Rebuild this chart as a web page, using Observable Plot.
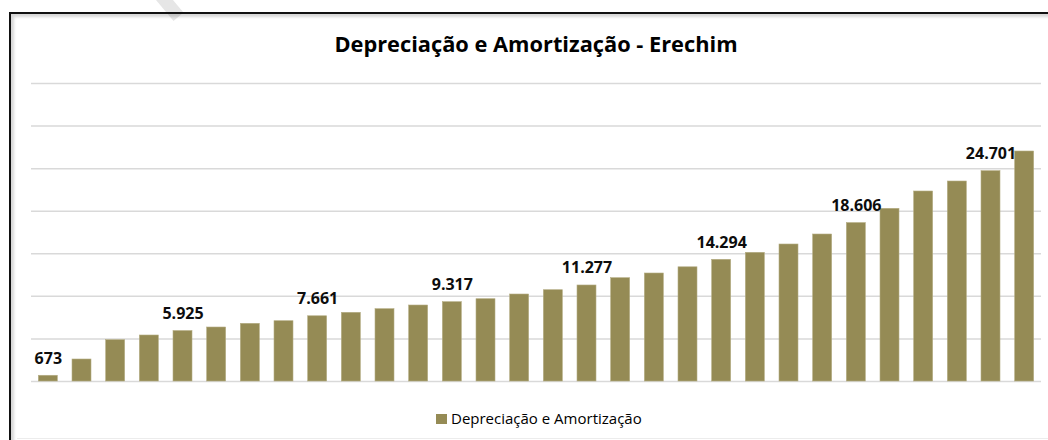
<!DOCTYPE html>
<html><head><meta charset="utf-8">
<script src="https://cdn.jsdelivr.net/npm/d3@7"></script>
<script src="https://cdn.jsdelivr.net/npm/@observablehq/plot@0.6"></script>
<style>
body{margin:0;background:#fff;}
#wrap{position:relative;width:1048px;height:440px;overflow:hidden;font-family:"Open Sans",Lato,sans-serif;background:#fff;}
#mark{position:absolute;left:163px;top:-8px;width:13px;height:28px;background:#e6e6e6;transform:rotate(-40deg);}
#frame{position:absolute;left:9px;top:12px;width:1100px;height:500px;border-left:2px solid #111;border-top:2px solid #111;box-shadow:inset 3px 3px 3px rgba(0,0,0,0.16);}
#bottomline{position:absolute;left:17px;top:438px;width:1031px;height:1px;background:#ececec;}
#chart{position:absolute;left:0;top:0;}
#title{position:absolute;left:12px;width:1048px;top:30px;text-align:center;font-weight:bold;font-size:21.8px;color:#000;line-height:28px;}
#legend{position:absolute;top:408px;left:436px;font-size:15px;display:flex;align-items:center;color:#000;line-height:21px;}
#legend .sw{width:11px;height:10px;background:#958b55;margin-right:4px;}
</style>
</head><body>
<div id="wrap">
  <div id="mark"></div>
  <div id="frame"></div>
  <div id="bottomline"></div>
  <div id="chart"></div>
  <div id="title">Depreciação e Amortização - Erechim</div>
  <div id="legend"><span class="sw"></span><span id="legtext"></span></div>
</div>
<script>
// Data
const seriesName = "Depreciação e Amortização";
const periods = ["P01","P02","P03","P04","P05","P06","P07","P08","P09","P10",
                 "P11","P12","P13","P14","P15","P16","P17","P18","P19","P20",
                 "P21","P22","P23","P24","P25","P26","P27","P28","P29","P30"];
const values = [673, 2584, 4851, 5403, 5925, 6342, 6777, 7082, 7661, 8069,
                8492, 8926, 9317, 9666, 10218, 10723, 11277, 12133, 12685, 13413,
                14294, 15116, 16091, 17265, 18606, 20284, 22316, 23490, 24701, 27014];
const labeledPeriods = ["P01","P05","P09","P13","P17","P21","P25","P29"];
const gridTicks = [0, 5000, 10000, 15000, 20000, 25000, 30000, 35000];

const data = periods.map((p, i) => ({period: p, value: values[i]}));
const labeled = data.filter(d => labeledPeriods.includes(d.period));
const fmt = d3.formatLocale({decimal: ",", thousands: ".", grouping: [3], currency: ["R$", ""]}).format(",d");

document.getElementById("legtext").textContent = seriesName;

const chart = Plot.plot({
  width: 1048,
  height: 400,
  marginLeft: 31,
  marginRight: 7,
  marginTop: 83,
  marginBottom: 19,
  style: {background: "transparent", fontFamily: "'Open Sans', Lato, sans-serif"},
  x: {domain: periods, paddingInner: 0.436, paddingOuter: 0.218, round: false, axis: null},
  y: {domain: [0, 35000], axis: null},
  marks: [
    Plot.ruleY(gridTicks, {stroke: "#d9d9d9", strokeWidth: 1.5}),
    Plot.barY(data, {x: "period", y: "value", fill: "#958b55", stroke: "#b5ad84", strokeWidth: 0.6}),
    Plot.text(labeled, {x: "period", y: "value", text: d => fmt(d.value), dy: -12, lineAnchor: "bottom",
      fontWeight: "bold", fontSize: 16, fill: "#0d0d0d"})
  ]
});
document.getElementById("chart").appendChild(chart);
</script>
</body></html>
